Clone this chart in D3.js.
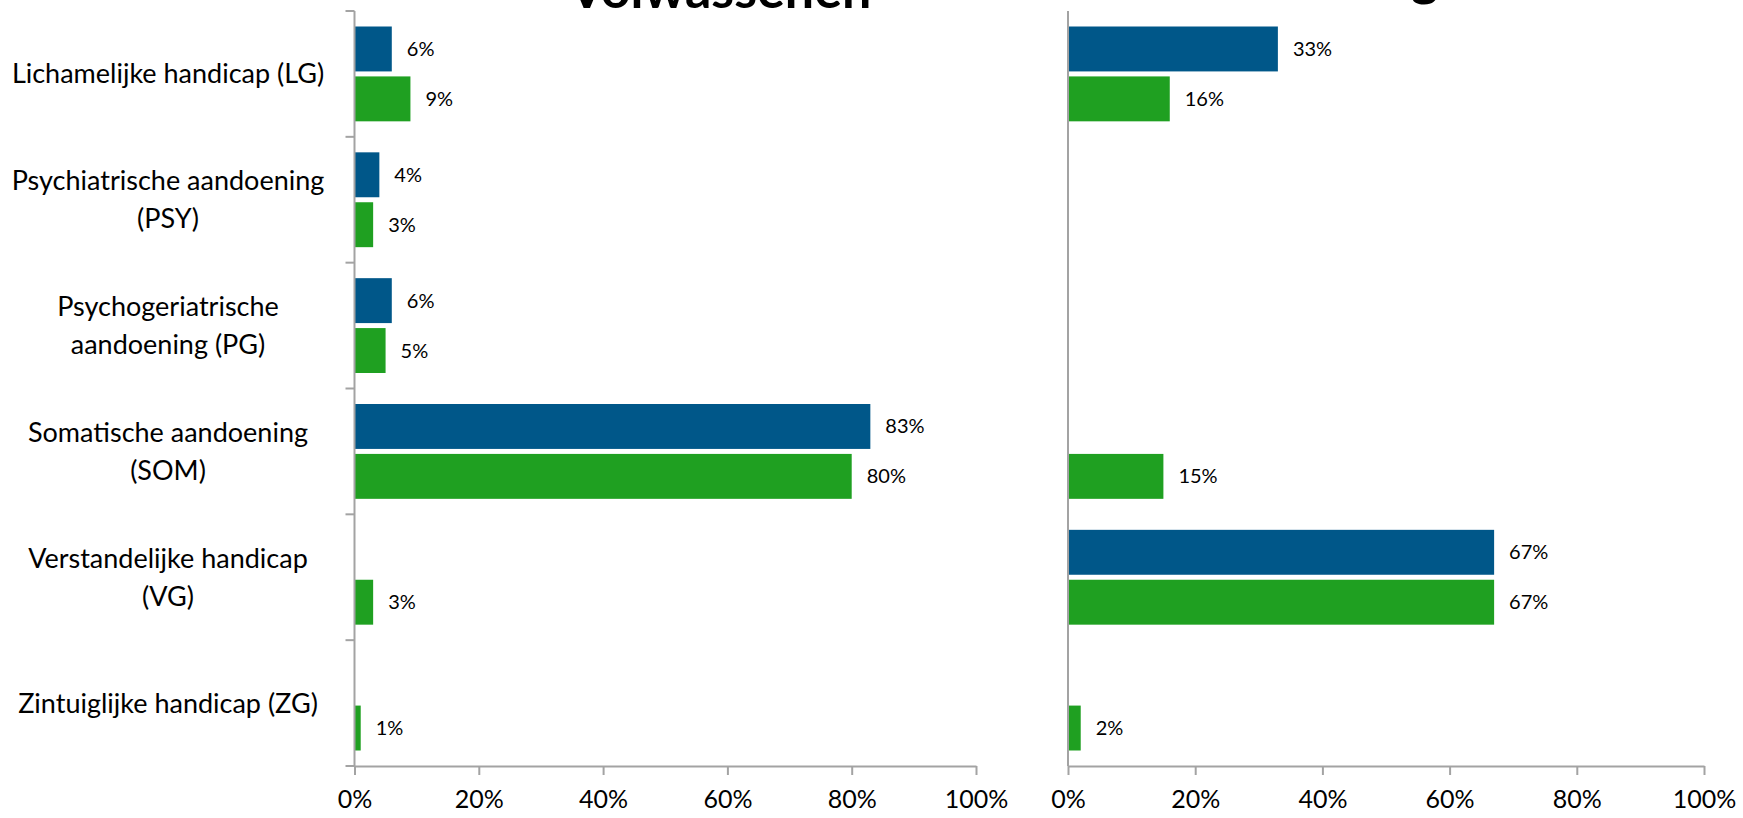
<!DOCTYPE html>
<html>
<head>
<meta charset="utf-8">
<script src="https://cdn.jsdelivr.net/npm/d3@7"></script>
<style>
  body { margin: 0; background: #fff; }
  svg { display: block; }
  text { font-family: Lato, "Liberation Sans", sans-serif; fill: #000; }
</style>
</head>
<body>
<svg id="chart" width="1743" height="818"></svg>
<script>
// Categories (client groups) and their wrapped label lines
const categories = ["LG", "PSY", "PG", "SOM", "VG", "ZG"];
const categoryLines = [
  ["Lichamelijke handicap (LG)"],
  ["Psychiatrische aandoening", "(PSY)"],
  ["Psychogeriatrische", "aandoening (PG)"],
  ["Somatische aandoening", "(SOM)"],
  ["Verstandelijke handicap", "(VG)"],
  ["Zintuiglijke handicap (ZG)"]
];

// Percentages per category; null = no bar
const adultsBlue  = [6, 4, 6, 83, null, null];
const adultsGreen = [9, 3, 5, 80, 3, 1];
const youthBlue   = [33, null, null, null, 67, null];
const youthGreen  = [16, null, null, 15, 67, 2];

const xTickValues = [0, 20, 40, 60, 80, 100];
const seriesKeys = ["blue", "green"];
const colors = { blue: "#005789", green: "#1fa021" };

const svg = d3.select("#chart");
const axisColor = "#a3a3a3";

const y = d3.scaleBand().domain(categories).range([11, 766]).padding(0);
const inner = d3.scaleBand().domain(seriesKeys)
  .range([15.5, y.bandwidth() - 15.5]).paddingInner(0.1);

const panels = [
  { title: "Volwassenen", titleX: 720, titleY: 8, x0: 354.5, x1: 976,
    blue: adultsBlue, green: adultsGreen, catTicks: true },
  { title: "Jeugd", titleX: 1400, titleY: -5, x0: 1068, x1: 1704,
    blue: youthBlue, green: youthGreen, catTicks: false }
];

panels.forEach(p => {
  const g = svg.append("g");
  const x = d3.scaleLinear().domain([0, 100]).range([p.x0, p.x1]);

  // Panel title; it runs past the top edge of the page
  g.append("text")
    .attr("x", p.titleX).attr("y", p.titleY)
    .attr("text-anchor", "middle")
    .style("font-weight", "bold").style("font-size", "52px")
    .text(p.title);

  // Bars
  const rows = [];
  categories.forEach((c, i) => {
    seriesKeys.forEach(k => {
      const v = p[k][i];
      if (v !== null) rows.push({ c, k, v });
    });
  });

  g.selectAll("rect.bar").data(rows).join("rect")
    .attr("class", "bar")
    .attr("x", x(0))
    .attr("y", d => y(d.c) + inner(d.k))
    .attr("width", d => x(d.v) - x(0))
    .attr("height", inner.bandwidth())
    .attr("fill", d => colors[d.k]);

  // Value labels
  g.selectAll("text.val").data(rows).join("text")
    .attr("class", "val")
    .attr("x", d => x(d.v) + 15)
    .attr("y", d => y(d.c) + inner(d.k) + inner.bandwidth() / 2)
    .attr("dy", "0.35em")
    .style("font-size", "20px")
    .text(d => d.v + "%");

  // X axis
  const xAxis = g.append("g")
    .attr("transform", "translate(0,766)")
    .call(d3.axisBottom(x).tickValues(xTickValues)
      .tickFormat(d => d + "%").tickSize(9).tickSizeOuter(0).tickPadding(15));
  xAxis.select(".domain").attr("stroke", axisColor).attr("stroke-width", 2);
  xAxis.selectAll(".tick line").attr("stroke", axisColor).attr("stroke-width", 2);
  xAxis.selectAll(".tick text").style("font-size", "25px")
    .style("font-family", "Lato, 'Liberation Sans', sans-serif").attr("fill", "#000");

  // Category axis line
  g.append("line")
    .attr("x1", x(0)).attr("x2", x(0))
    .attr("y1", y.range()[0]).attr("y2", y.range()[1])
    .attr("stroke", axisColor).attr("stroke-width", 2);

  if (p.catTicks) {
    const bounds = categories.map(c => y(c)).concat([y.range()[1]]);
    g.selectAll("line.ctick").data(bounds).join("line")
      .attr("class", "ctick")
      .attr("x1", x(0) - 9).attr("x2", x(0))
      .attr("y1", d => d).attr("y2", d => d)
      .attr("stroke", axisColor).attr("stroke-width", 2);

    // Category labels, centred, one or two lines
    categories.forEach((c, i) => {
      const lines = categoryLines[i];
      const cy = y(c) + y.bandwidth() / 2;
      const lh = 38;
      const t = g.append("text")
        .attr("text-anchor", "middle")
        .style("font-size", "27px");
      lines.forEach((ln, j) => {
        t.append("tspan")
          .attr("x", 168)
          .attr("y", cy + (j - (lines.length - 1) / 2) * lh)
          .attr("dy", "0.35em")
          .text(ln);
      });
    });
  }
});
</script>
</body>
</html>
